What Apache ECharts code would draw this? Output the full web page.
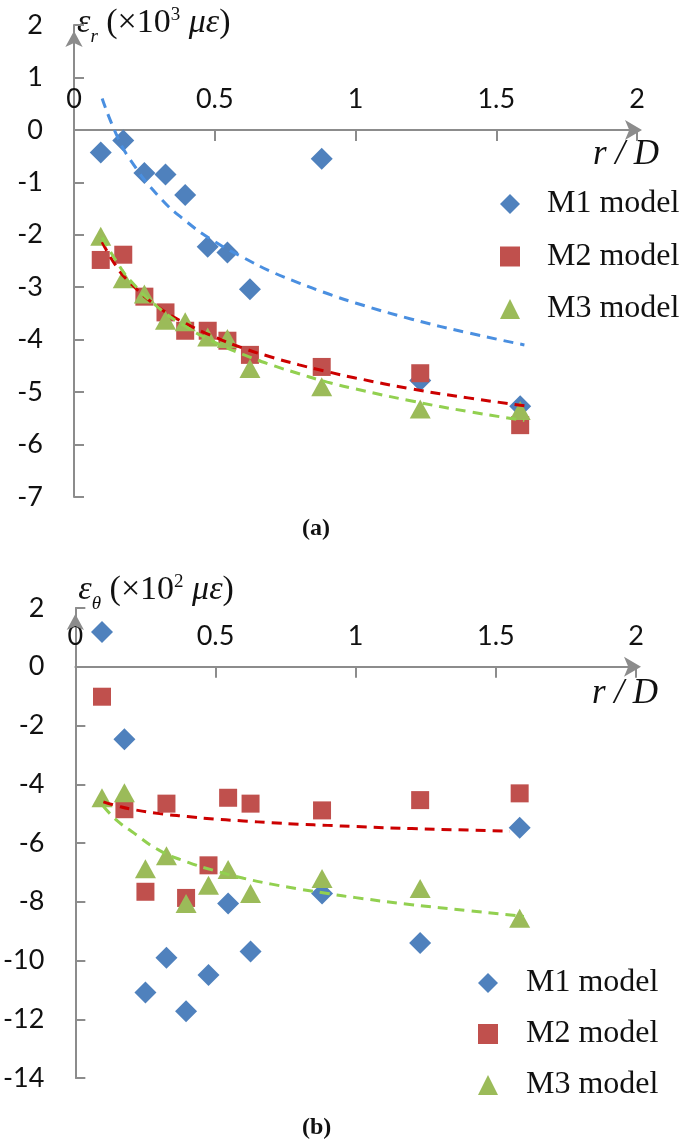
<!DOCTYPE html>
<html>
<head>
<meta charset="utf-8">
<script src="https://cdn.jsdelivr.net/npm/echarts@6/dist/echarts.min.js"></script>
<style>html,body{margin:0;padding:0;background:#fff;}#c{width:685px;height:1143px;}</style>
</head>
<body>
<div id="c"></div>
<script>
// shared r/D positions of the measurement points
const xVals = [0.095, 0.175, 0.25, 0.325, 0.395, 0.475, 0.545, 0.625, 0.88, 1.23, 1.585];
// (a) radial strain, x10^3 micro-strain
const aM1 = [-0.43, -0.20, -0.82, -0.85, -1.24, -2.23, -2.34, -3.04, -0.55, -4.78, -5.27];
const aM2 = [-2.48, -2.38, -3.18, -3.48, -3.83, -3.83, -4.02, -4.29, -4.52, -4.64, -5.63];
const aM3 = [-2.03, -2.84, -3.13, -3.63, -3.66, -3.95, -3.98, -4.55, -4.90, -5.32, -5.35];
// (b) hoop strain, x10^2 micro-strain
const bM1 = [1.18, -2.47, -11.09, -9.91, -11.73, -10.49, -8.06, -9.69, -7.72, -9.40, -5.48];
const bM2 = [-1.02, -4.85, -7.66, -4.66, -7.87, -6.76, -4.46, -4.66, -4.89, -4.54, -4.31];
const bM3 = [-4.46, -4.29, -6.88, -6.43, -8.06, -7.44, -6.90, -7.72, -7.21, -7.55, -8.56];
// trend lines
const trendX = [0.1, 0.15, 0.2, 0.3, 0.4, 0.5, 0.6, 0.7, 0.8, 0.9, 1.0, 1.2, 1.4, 1.6];
const aM1Trend = [0.60, -0.08, -0.57, -1.26, -1.75, -2.13, -2.43, -2.70, -2.92, -3.12, -3.30, -3.61, -3.87, -4.10];
const aM2Trend = [-2.14, -2.60, -2.92, -3.38, -3.70, -3.95, -4.16, -4.33, -4.48, -4.61, -4.73, -4.94, -5.11, -5.26];
const aM3Trend = [-2.05, -2.50, -2.87, -3.39, -3.76, -4.05, -4.28, -4.48, -4.65, -4.81, -4.94, -5.17, -5.37, -5.54];
const bTrendX2 = [0.1, 0.15, 0.2, 0.3, 0.4, 0.5, 0.6, 0.7, 0.8, 0.9, 1.0, 1.2, 1.4, 1.55];
const bM2Trend = [-4.60, -4.74, -4.85, -5.00, -5.10, -5.19, -5.25, -5.31, -5.36, -5.40, -5.44, -5.51, -5.56, -5.60];
const bM3Trend = [-4.75, -5.25, -5.60, -6.25, -6.65, -6.95, -7.20, -7.40, -7.57, -7.72, -7.86, -8.10, -8.30, -8.50];
const seriesNames = ['M1 model', 'M2 model', 'M3 model'];
const xTicks = {min: 0, max: 2, interval: 0.5};
const yTicksA = {min: -7, max: 2, interval: 1};
const yTicksB = {min: -14, max: 2, interval: 2};

const pts = (xs, ys) => xs.map((x, i) => [x, ys[i]]);
const AX = '#8c8c8c';
const TXT = '#111';
const SERIF = 'Liberation Serif, Times New Roman, serif';
const SANS = 'Lato, Noto Sans, sans-serif';
const markerColors = ['#4F81BD', '#C0504D', '#9BBB59'];
const symbols = [['diamond', [22, 22]], ['rect', [18, 18]], ['triangle', [21, 19]]];
const trendColors = ['#4a8fe0', '#cc0000', '#92d050'];
const grids = [
  {left: 74, top: 25, width: 563, height: 472},
  {left: 74, top: 608, width: 562, height: 470}
];
const yTicksAll = [yTicksA, yTicksB];

function xAxisFor(gi, namePadTop) {
  const g = grids[gi], t = yTicksAll[gi];
  // x axis crosses at y = 0: shift the top axis down into the grid by that distance
  const zeroOffset = -g.height * (t.max - 0) / (t.max - t.min);
  return {
    gridIndex: gi, type: 'value', min: xTicks.min, max: xTicks.max, interval: xTicks.interval,
    position: 'top', offset: zeroOffset,
    axisLine: {onZero: false, lineStyle: {color: AX, width: 2}, symbol: ['none', 'arrow'], symbolSize: [15, 17], symbolOffset: [0, 5]},
    axisTick: {inside: true, length: 11, lineStyle: {color: AX, width: 2}},
    axisLabel: {margin: 17, fontFamily: SANS, fontSize: 27, color: TXT},
    splitLine: {show: false},
    name: 'r / D', nameLocation: 'end', nameGap: 22,
    nameTextStyle: {fontFamily: SERIF, fontStyle: 'italic', fontSize: 35, color: TXT, align: 'right', verticalAlign: 'top', padding: [namePadTop, 0, 0, 0]}
  };
}
function richName(sub, sup) {
  return '{e|ε}{s|' + sub + '}{t| (×10}{p|' + sup + '}{t| }{e|με}{t|)}';
}
const rich = {
  e: {fontFamily: SERIF, fontStyle: 'italic', fontSize: 34, color: TXT},
  t: {fontFamily: SERIF, fontSize: 34, color: TXT},
  s: {fontFamily: SERIF, fontStyle: 'italic', fontSize: 19, color: TXT, verticalAlign: 'bottom', padding: [0, 0, -6, 0]},
  p: {fontFamily: SERIF, fontSize: 19, color: TXT, verticalAlign: 'top'}
};
function yAxisFor(gi, ticks, sub, sup, gap) {
  return {
    gridIndex: gi, type: 'value', min: ticks.min, max: ticks.max, interval: ticks.interval,
    axisLine: {onZero: false, lineStyle: {color: AX, width: 2}, symbol: ['none', 'arrow'], symbolSize: [13, 16], symbolOffset: [0, -6]},
    axisTick: {inside: true, length: 10, lineStyle: {color: AX, width: 2}},
    axisLabel: {margin: 31, fontFamily: SANS, fontSize: 27, color: TXT},
    splitLine: {show: false},
    name: richName(sub, sup), nameLocation: 'end', nameGap: gap,
    nameTextStyle: {align: 'left', verticalAlign: 'middle', padding: [0, 0, 0, 3], rich: rich}
  };
}

const series = [];
const dataA = [aM1, aM2, aM3];
const dataB = [bM1, bM2, bM3];
[0, 1].forEach(gi => {
  const d = gi === 0 ? dataA : dataB;
  d.forEach((ys, k) => {
    series.push({
      name: seriesNames[k], type: 'scatter', xAxisIndex: gi, yAxisIndex: gi,
      symbol: symbols[k][0], symbolSize: symbols[k][1],
      itemStyle: {color: markerColors[k], opacity: 1}, z: 2,
      data: pts(xVals, ys)
    });
  });
});
const trends = [
  [0, 'M1 trend a', trendX, aM1Trend, 0],
  [0, 'M2 trend a', trendX, aM2Trend, 1],
  [0, 'M3 trend a', trendX, aM3Trend, 2],
  [1, 'M2 trend b', bTrendX2, bM2Trend, 1],
  [1, 'M3 trend b', trendX, bM3Trend, 2]
];
trends.forEach(([gi, nm, xs, ys, k]) => {
  series.push({
    name: nm, type: 'line', xAxisIndex: gi, yAxisIndex: gi, smooth: true, showSymbol: false,
    lineStyle: {color: trendColors[k], width: 3, type: [10, 7]}, z: 3, silent: true,
    data: pts(xs, ys)
  });
});

const legendText = {fontFamily: SERIF, fontSize: 32, color: TXT};
const chart = echarts.init(document.getElementById('c'), null, {renderer: 'canvas'});
chart.setOption({
  animation: false,
  backgroundColor: '#fff',
  grid: grids,
  xAxis: [xAxisFor(0, 7), xAxisFor(1, 10)],
  yAxis: [yAxisFor(0, yTicksA, 'r', '3', 2), yAxisFor(1, yTicksB, 'θ', '2', 18)],
  legend: [
    {data: seriesNames, orient: 'vertical', left: 495, top: 183, itemWidth: 20, itemHeight: 20, itemGap: 20.5,
     textStyle: Object.assign({padding: [0, 0, 0, 22]}, legendText)},
    {data: seriesNames, orient: 'vertical', left: 473, top: 962, itemWidth: 20, itemHeight: 20, itemGap: 19,
     textStyle: Object.assign({padding: [0, 0, 0, 23]}, legendText)}
  ],
  graphic: [
    {type: 'text', left: 302, top: 517, style: {text: '(a)', font: 'bold 24px ' + SERIF, fill: TXT}},
    {type: 'text', left: 302, top: 1116, style: {text: '(b)', font: 'bold 24px ' + SERIF, fill: TXT}}
  ],
  series: series
});
</script>
</body>
</html>
